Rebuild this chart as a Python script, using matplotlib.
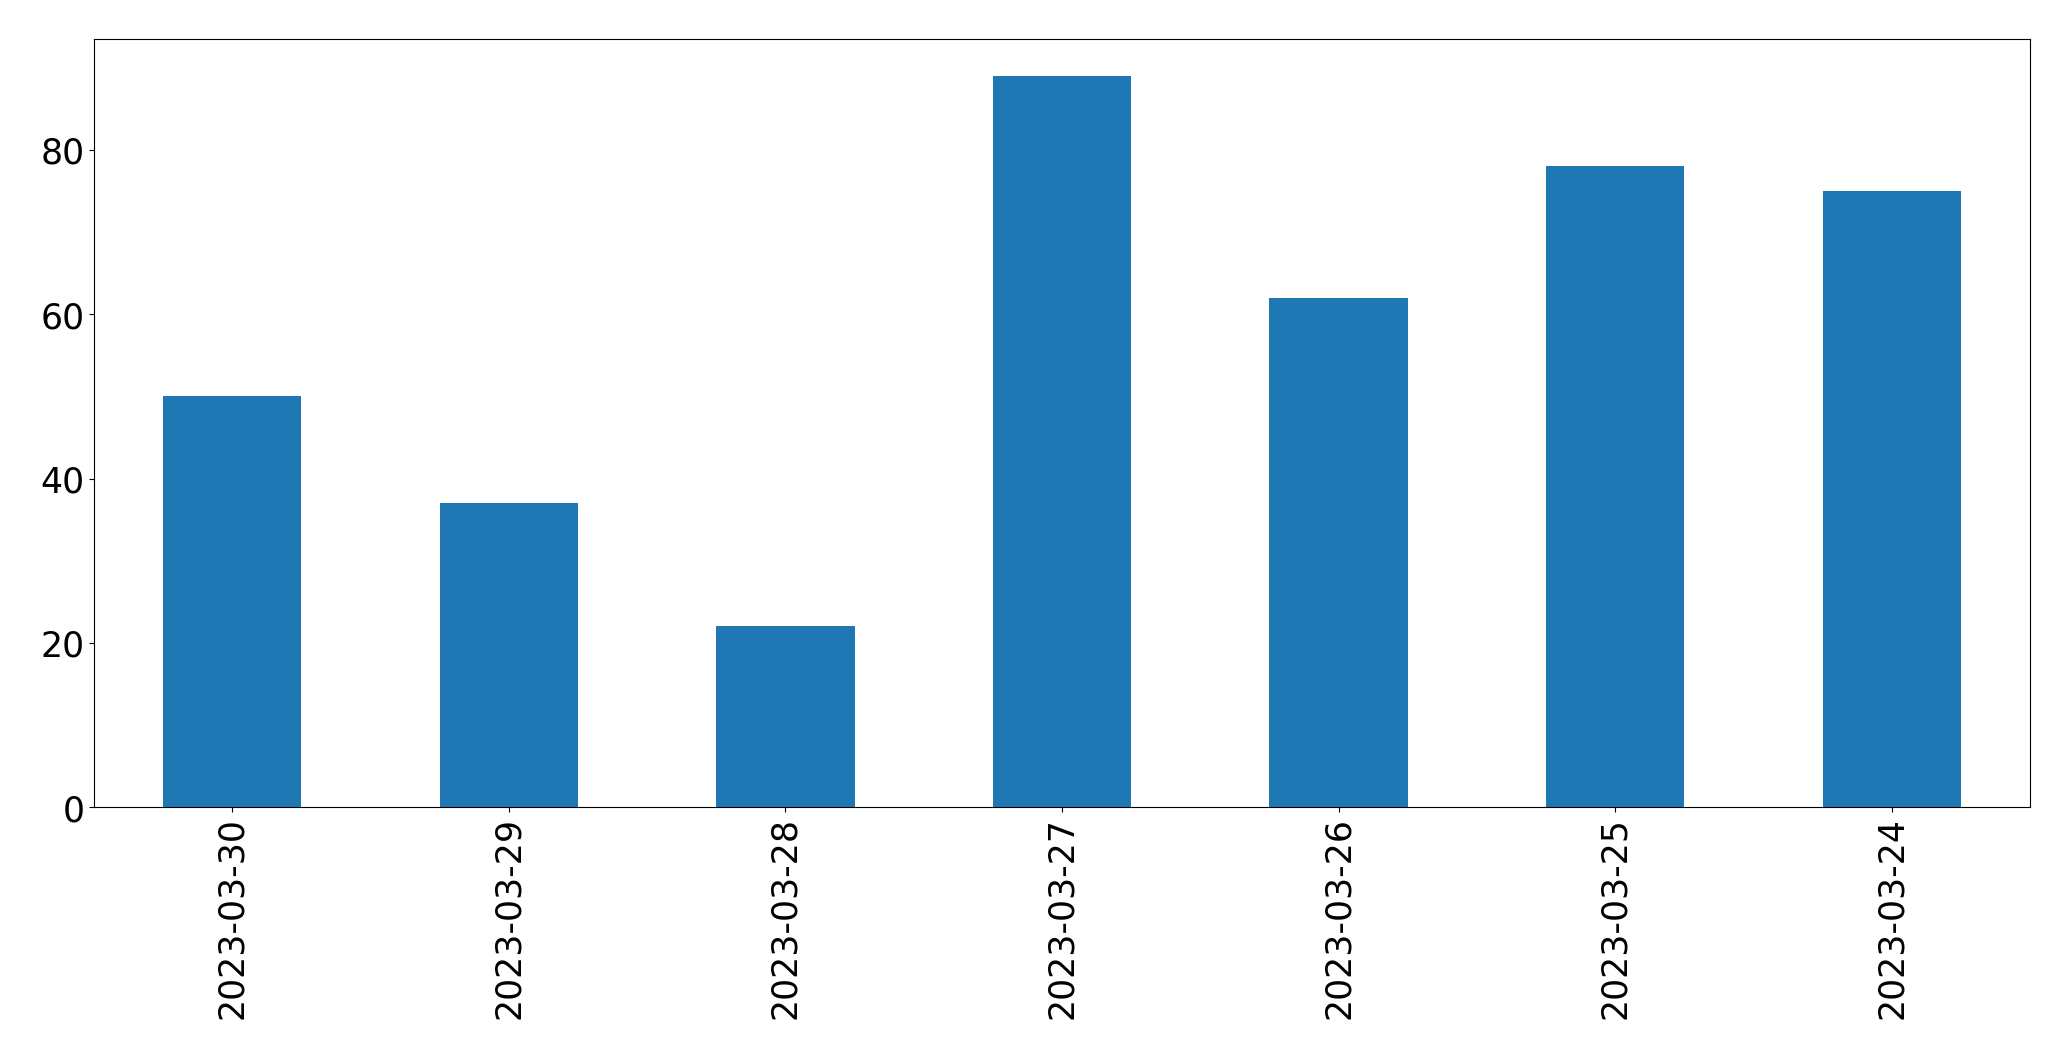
import matplotlib
matplotlib.use("Agg")
import matplotlib.pyplot as plt
import pandas as pd

dates = ["2023-03-30", "2023-03-29", "2023-03-28", "2023-03-27", "2023-03-26", "2023-03-25", "2023-03-24"]
values = [50, 37, 22, 89, 62, 78, 75]

s = pd.Series(values, index=dates)
fig, ax = plt.subplots(figsize=(20.71, 10.605), dpi=100)
s.plot(kind="bar", ax=ax, color="#1f77b4")
ax.tick_params(axis="both", labelsize=25)
fig.subplots_adjust(left=94/2071, right=2030/2071, top=1-40/1061, bottom=1-808/1061)
fig.savefig("out.png", dpi=100)
